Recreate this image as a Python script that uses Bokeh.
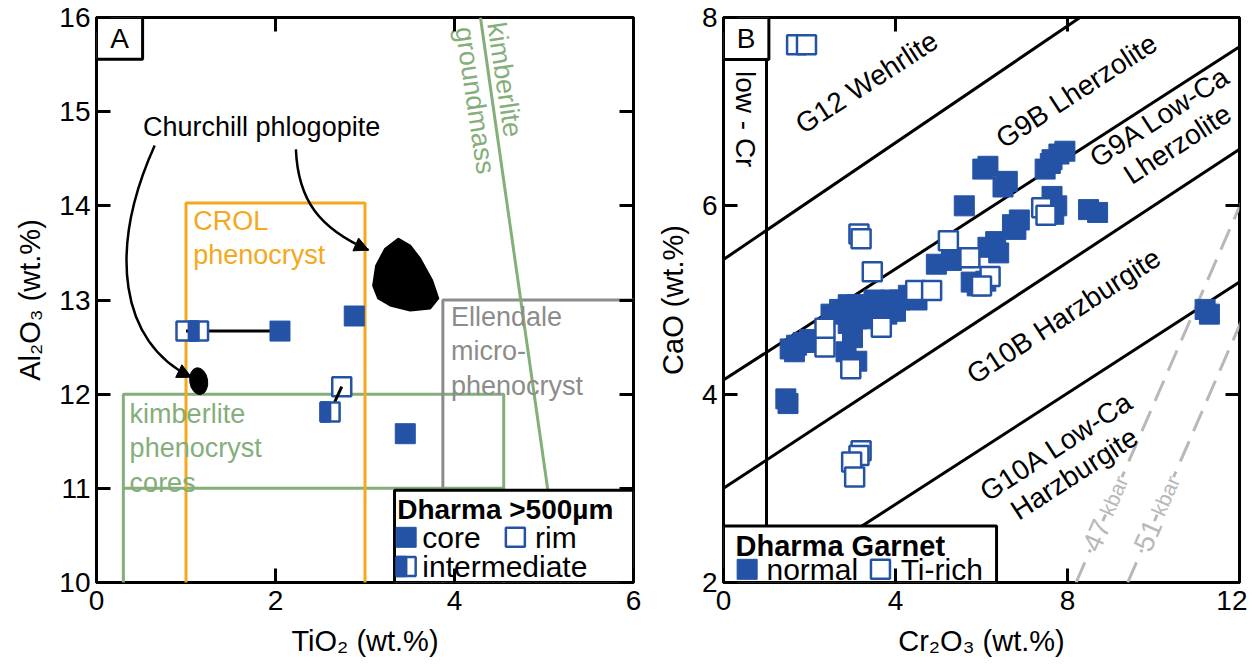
from bokeh.plotting import figure
from bokeh.layouts import row
from bokeh.models import Range1d, LinearAxis, FixedTicker, Arrow, NormalHead, Label
from bokeh.core.properties import value
from bokeh.embed import file_html
from bokeh.resources import INLINE

FONT = "Liberation Sans"
BLUE = "#2453a6"
ORANGE = "#f4a81d"
GREEN = "#84ae7a"
GRAY = "#8c8c8c"
DGRAY = "#b8b8b8"

# ---------------- Panel A data ----------------
a_core_ti = [2.05, 2.88, 3.45]
a_core_al = [12.67, 12.83, 11.58]
a_rim_ti = [1.00, 2.74]
a_rim_al = [12.67, 12.08]
a_int_ti = [1.14, 2.61]
a_int_al = [12.67, 11.81]
a_link_ti = [[1.00, 2.05], [2.74, 2.61]]
a_link_al = [[12.67, 12.67], [12.08, 11.81]]
a_xticks = [0, 2, 4, 6]
a_yticks = [10, 11, 12, 13, 14, 15, 16]

# field boxes (TiO2 range, Al2O3 range)
crol_ti = [1.0, 3.0]
crol_al = [9.9, 14.03]
kimb_ti = [0.3, 4.55]
kimb_al = [9.9, 12.0]
kimb_mid_al = 11.0
ell_ti = [3.87, 6.1]
ell_al = [9.9, 13.0]
gm_ti = [4.29, 5.19]
gm_al = [16.0, 10.0]

# Churchill phlogopite fields
blob_ti = [3.371, 3.505, 3.617, 3.751, 3.819, 3.729, 3.505, 3.281, 3.147, 3.091, 3.124, 3.225]
blob_al = [13.651, 13.577, 13.439, 13.206, 13.016, 12.910, 12.889, 12.942, 13.016, 13.153, 13.365, 13.545]
small_blob = (1.142, 12.138, 0.2, 0.286)

# ---------------- Panel B data ----------------
b_norm_cr = [1.45, 1.50, 1.55, 1.70, 1.85, 2.00, 2.10, 1.65,
             2.85, 3.10, 3.00, 2.90, 3.10,
             2.50, 2.70, 2.90, 3.10, 3.30, 3.50, 3.70, 3.90, 4.10, 3.40, 3.60, 3.80, 3.20, 4.00, 4.30, 4.50,
             4.95, 5.30, 5.55, 5.76, 6.10, 5.90, 6.15, 6.33, 6.40, 6.72, 6.88, 6.80,
             5.60, 6.03, 6.15, 6.60, 6.50,
             7.48, 7.64, 7.80, 7.94, 7.60, 7.64, 7.68, 7.75, 8.49, 8.70,
             11.20, 11.30]
b_norm_ca = [3.95, 3.90, 4.48, 4.52, 4.55, 4.58, 4.55, 4.45,
             4.45, 4.35, 4.60, 4.75, 4.80,
             4.85, 4.90, 4.95, 4.95, 4.95, 5.00, 4.95, 5.00, 5.00, 4.85, 4.85, 4.85, 4.80, 4.88, 5.05, 5.00,
             5.38, 5.42, 5.45, 5.19, 5.20, 5.15, 5.56, 5.62, 5.50, 5.80, 5.85, 5.75,
             6.00, 6.39, 6.42, 6.26, 6.20,
             6.39, 6.49, 6.55, 6.58, 6.45, 6.10, 5.91, 6.00, 5.96, 5.93,
             4.90, 4.85]
b_ti_cr = [1.70, 1.93, 3.15, 3.20, 3.46, 3.20, 3.15, 2.98, 3.05, 2.96,
           2.36, 2.36, 3.67, 4.47, 4.84, 5.23, 5.73, 6.20, 6.00, 7.40, 7.50]
b_ti_ca = [7.71, 7.71, 5.70, 5.65, 5.30, 3.40, 3.35, 3.28, 3.12, 4.27,
           4.50, 4.70, 4.71, 5.10, 5.10, 5.63, 5.45, 5.25, 5.15, 5.98, 5.90]
b_xticks = [0, 4, 8, 12]
b_yticks = [2, 4, 6, 8]

# classification boundaries: (intercept, slope)
b_bounds = [(5.43, 0.31), (4.15, 0.295), (3.0, 0.30), (1.65, 0.295)]
b_lowcr = 1.0
# pressure isobars (Cr2O3 at CaO=2, slope)
b_isobars = [(8.2, 1.05), (9.4, 1.05)]
b_isobar_names = ["47", "51"]


def style(p, xt, yt, xlabel, ylabel):
    p.xgrid.visible = False
    p.ygrid.visible = False
    p.outline_line_color = "black"
    p.outline_line_width = 3
    p.background_fill_color = "white"
    p.border_fill_color = "white"
    xa, ya = p.xaxis[0], p.yaxis[0]
    xa.axis_label = xlabel
    ya.axis_label = ylabel
    xa.ticker = FixedTicker(ticks=xt)
    ya.ticker = FixedTicker(ticks=yt)
    for ax in (xa, ya):
        ax.axis_line_color = None
        ax.major_tick_in = 14
        ax.major_tick_out = 0
        ax.major_tick_line_width = 3
        ax.minor_tick_line_color = None
        ax.major_label_text_font = FONT
        ax.major_label_text_font_size = "28px"
        ax.major_label_text_color = "black"
        ax.major_label_standoff = 6
        ax.axis_label_text_font = FONT
        ax.axis_label_text_font_size = "29px"
        ax.axis_label_text_font_style = "normal"
        ax.axis_label_text_color = "black"
        ax.axis_label_standoff = 10
    xa.major_label_standoff = 8
    xa.axis_label_standoff = 12
    for loc, tk in (("right", yt), ("above", xt)):
        ax = LinearAxis(ticker=FixedTicker(ticks=tk))
        ax.axis_line_color = None
        ax.major_tick_in = 14
        ax.major_tick_out = 0
        ax.major_tick_line_width = 3
        ax.minor_tick_line_color = None
        ax.major_label_text_font_size = "1px"
        ax.major_label_text_alpha = 0
        ax.major_label_standoff = 0
        p.add_layout(ax, loc)


def txt(p, x, y, s, size="27px", color="black", align="left", baseline="middle", angle=0, style_="normal", lh=1.15):
    p.text(x=[x], y=[y], text=[s], text_font=value(FONT), text_font_size=size,
           text_color=color, text_align=align, text_baseline=baseline, angle=angle,
           angle_units="deg", text_font_style=style_, text_line_height=lh)


def square_markers(p, xs, ys, kind, pxu):
    if kind == "core":
        p.scatter(xs, ys, marker="square", size=20, fill_color=BLUE, line_color=BLUE, line_width=1)
    elif kind == "rim":
        p.scatter(xs, ys, marker="square", size=19, fill_color="white", line_color=BLUE, line_width=2.5)
    else:
        p.scatter(xs, ys, marker="square", size=19, fill_color="white", line_color=BLUE, line_width=2.5)
        p.rect([x - 4.75 / pxu for x in xs], ys, width=9.5, height=19, width_units="screen",
               height_units="screen", fill_color=BLUE, line_color=BLUE, line_width=2.5)


# ================= Panel A =================
pA = figure(width=653, height=667, x_range=Range1d(0, 6), y_range=Range1d(10, 16),
            output_backend="svg", toolbar_location=None,
            min_border_left=96, min_border_right=20, min_border_top=15, min_border_bottom=85)
style(pA, a_xticks, a_yticks, "TiO\u2082 (wt.%)", "Al\u2082O\u2083 (wt.%)")
pxuA = 537 / 6.0

# field boxes
pA.quad(left=[kimb_ti[0]], right=[kimb_ti[1]], bottom=[kimb_al[0]], top=[kimb_al[1]],
        fill_color=None, line_color=GREEN, line_width=3)
pA.line([kimb_ti[0], kimb_ti[1]], [kimb_mid_al, kimb_mid_al], line_color=GREEN, line_width=3)
pA.quad(left=[ell_ti[0]], right=[ell_ti[1]], bottom=[ell_al[0]], top=[ell_al[1]],
        fill_color=None, line_color=GRAY, line_width=3)
pA.quad(left=[crol_ti[0]], right=[crol_ti[1]], bottom=[crol_al[0]], top=[crol_al[1]],
        fill_color=None, line_color=ORANGE, line_width=3)
pA.line(gm_ti, gm_al, line_color=GREEN, line_width=3)

# phlogopite fields
pA.patch(blob_ti, blob_al, fill_color="black", line_color="black", line_width=2, line_join="round")
pA.ellipse(x=[small_blob[0]], y=[small_blob[1]], width=[small_blob[2]], height=[small_blob[3]],
           angle=0.15, fill_color="black", line_color="black")

# arrows (bezier curves + heads)
arrows = [((0.65, 14.64), (0.123, 13.524), (0.26, 12.55), (1.06, 12.18)),
          ((2.228, 14.60), (2.251, 14.053), (2.497, 13.757), (3.04, 13.53))]
for (p0, c1, c2, p3) in arrows:
    pA.bezier(x0=[p0[0]], y0=[p0[1]], x1=[p3[0]], y1=[p3[1]], cx0=[c1[0]], cy0=[c1[1]],
              cx1=[c2[0]], cy1=[c2[1]], line_color="black", line_width=2.5)
    sx = c2[0] + 0.85 * (p3[0] - c2[0])
    sy = c2[1] + 0.85 * (p3[1] - c2[1])
    pA.add_layout(Arrow(end=NormalHead(size=14, fill_color="black", line_color="black"),
                        x_start=sx, y_start=sy, x_end=p3[0], y_end=p3[1], line_width=2.5))

# field labels
txt(pA, 0.52, 14.84, "Churchill phlogopite")
txt(pA, 1.08, 14.0, "CROL\nphenocryst", color=ORANGE, baseline="top")
txt(pA, 0.37, 11.95, "kimberlite\nphenocryst\ncores", color=GREEN, baseline="top")
txt(pA, 3.96, 12.98, "Ellendale\nmicro-\nphenocryst", color=GRAY, baseline="top")
txt(pA, 4.56, 15.34, "kimberlite", color=GREEN, align="center", angle=-81.5)
txt(pA, 4.23, 15.12, "groundmass", color=GREEN, align="center", angle=-81.5)

# data
square_markers(pA, a_rim_ti, a_rim_al, "rim", pxuA)
pA.multi_line(a_link_ti, a_link_al, line_color="black", line_width=3)
square_markers(pA, a_int_ti, a_int_al, "int", pxuA)
square_markers(pA, a_core_ti, a_core_al, "core", pxuA)

# panel label
pA.quad(left=[0], right=[0.515], bottom=[15.556], top=[16.0], fill_color="white", line_color="black", line_width=3)
txt(pA, 0.257, 15.78, "A", size="28px", align="center")

# legend A
pA.quad(left=[3.33], right=[6.0], bottom=[10.0], top=[10.98], fill_color="white", line_color="black", line_width=3)
txt(pA, 3.36, 10.77, "Dharma >500\u00b5m", size="28px", style_="bold")
square_markers(pA, [3.46], [10.48], "core", pxuA)
txt(pA, 3.64, 10.48, "core", size="30px")
square_markers(pA, [4.68], [10.48], "rim", pxuA)
txt(pA, 4.90, 10.48, "rim", size="30px")
square_markers(pA, [3.46], [10.17], "int", pxuA)
txt(pA, 3.64, 10.17, "intermediate", size="30px")

# ================= Panel B =================
pB = figure(width=594, height=667, x_range=Range1d(0, 12), y_range=Range1d(2, 8),
            output_backend="svg", toolbar_location=None,
            min_border_left=63, min_border_right=8, min_border_top=17, min_border_bottom=85)
style(pB, b_xticks, b_yticks, "Cr\u2082O\u2083 (wt.%)", "CaO (wt.%)")

for (b0, m) in b_bounds:
    pB.line([0, 12], [b0, b0 + m * 12], line_color="black", line_width=3)
pB.line([b_lowcr, b_lowcr], [2, 8], line_color="black", line_width=3)
for (c0, m) in b_isobars:
    pB.line([c0, c0 + 6.0 / m], [2, 8], line_color=DGRAY, line_width=3, line_dash="22 11")

# isobar labels
for (c0, m), num in zip(b_isobars, b_isobar_names):
    for dy, s, fs in ((0.50, num, "28px"), (0.92, "kbar", "21px")):
        pB.add_layout(Label(x=c0 + dy / m, y=2 + dy, text=s, text_font=FONT, text_font_size=fs,
                            text_color=DGRAY, text_align="center", text_baseline="middle",
                            angle=66.2, angle_units="deg", background_fill_color="white"))

txt(pB, 3.33, 7.31, "G12 Wehrlite", size="28px", align="center", angle=33)
txt(pB, 8.21, 7.22, "G9B Lherzolite", size="28px", align="center", angle=33)
txt(pB, 10.35, 6.80, "G9A Low-Ca\nLherzolite", size="28px", align="center", angle=33, lh=1.05)
txt(pB, 7.91, 4.83, "G10B Harzburgite", size="28px", align="center", angle=33)
txt(pB, 7.95, 3.30, "G10A Low-Ca\nHarzburgite", size="28px", align="center", angle=33, lh=1.05)
txt(pB, 0.50, 6.92, "low - Cr", size="28px", align="center", angle=-90)

pB.scatter(b_norm_cr, b_norm_ca, marker="square", size=20, fill_color=BLUE, line_color=BLUE, line_width=1)
pB.scatter(b_ti_cr, b_ti_ca, marker="square", size=19, fill_color="white", line_color=BLUE, line_width=2.5)

pB.quad(left=[0], right=[1.055], bottom=[7.554], top=[8.0], fill_color="white", line_color="black", line_width=3)
txt(pB, 0.527, 7.777, "B", size="28px", align="center")

# legend B
pB.quad(left=[0], right=[6.35], bottom=[2.0], top=[2.6], fill_color="white", line_color="black", line_width=3)
txt(pB, 0.28, 2.39, "Dharma Garnet", size="29px", style_="bold")
pB.scatter([0.55], [2.14], marker="square", size=20, fill_color=BLUE, line_color=BLUE)
txt(pB, 1.0, 2.14, "normal", size="30px")
pB.scatter([3.65], [2.14], marker="square", size=19, fill_color="white", line_color=BLUE, line_width=2.5)
txt(pB, 4.12, 2.14, "Ti-rich", size="30px")

layout = row(pA, pB)
open("out.html", "w").write(file_html(layout, INLINE))
